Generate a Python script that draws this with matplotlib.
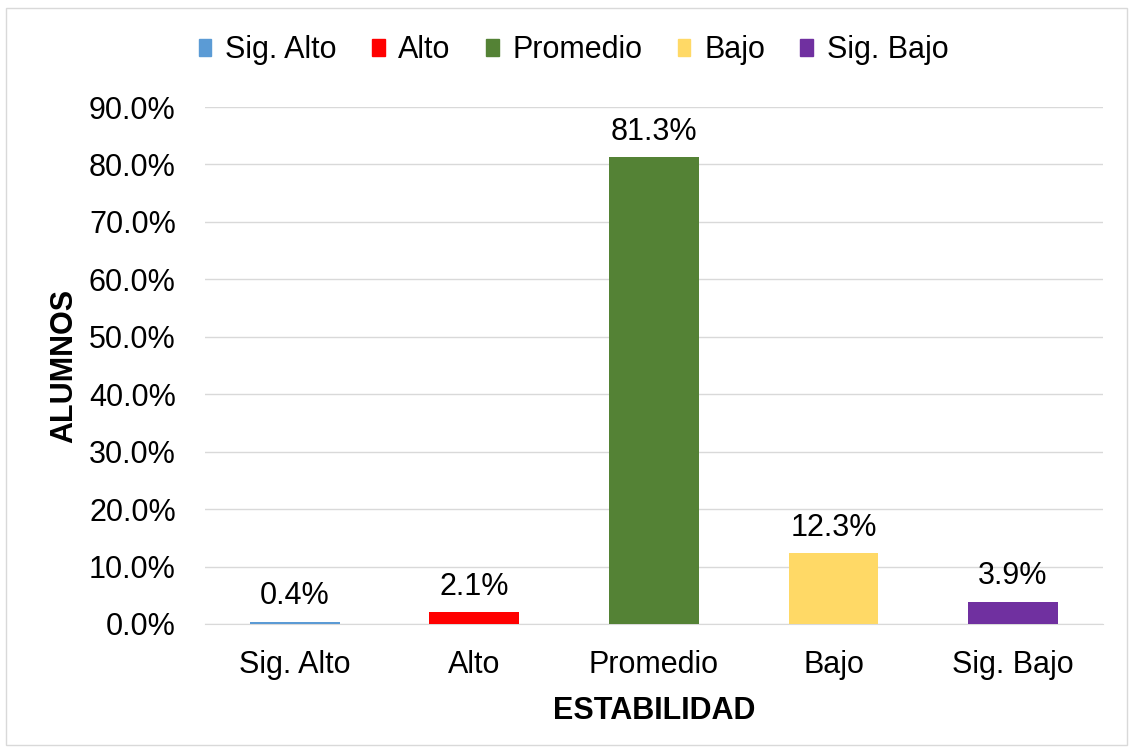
import matplotlib.pyplot as plt
from matplotlib.patches import Rectangle

categories = ["Sig. Alto", "Alto", "Promedio", "Bajo", "Sig. Bajo"]
values = [0.4, 2.1, 81.3, 12.3, 3.9]
colors = ["#5B9BD5", "#FF0000", "#548235", "#FFD966", "#7030A0"]

plt.rcParams["font.family"] = ["Liberation Sans", "DejaVu Sans"]
fs = 22

fig = plt.figure(figsize=(11.3, 7.49), dpi=100)
ax = fig.add_axes([0.1814, 0.1669, 0.7946, 0.6902])

x = range(len(categories))
ax.bar(x, values, width=0.5, color=colors, zorder=3)

# value labels above each bar
for xi, v in zip(x, values):
    ax.text(xi, v + 1.8, f"{v:.1f}%", ha="center", va="bottom", fontsize=fs)

ax.set_ylim(0, 90)
ax.set_xlim(-0.5, len(categories) - 0.5)
ax.set_yticks(range(0, 91, 10))
ax.set_yticklabels([f"{t:.1f}%" for t in range(0, 91, 10)], fontsize=fs)
ax.set_xticks(list(x))
ax.set_xticklabels(categories, fontsize=fs)
ax.tick_params(length=0)
ax.tick_params(axis="y", pad=21)
ax.tick_params(axis="x", pad=19)

ax.grid(axis="y", color="#D9D9D9", linewidth=1, zorder=0)
for s in ["top", "right", "left"]:
    ax.spines[s].set_visible(False)
ax.spines["bottom"].set_color("#D9D9D9")

ax.set_xlabel("ESTABILIDAD", fontsize=fs, fontweight="bold", labelpad=11)
ax.set_ylabel("ALUMNOS", fontsize=fs, fontweight="bold", labelpad=7)

handles = [Rectangle((0, 0), 1, 1, color=c) for c in colors]
fig.legend(handles, categories, loc="center", bbox_to_anchor=(0.5075, 0.933),
           ncol=5, frameon=False, fontsize=fs, handlelength=0.42,
           handleheight=0.5, handletextpad=0.45, columnspacing=1.15)

# light chart border
fig.patches.append(Rectangle((6 / 1130, 4 / 749), 1121 / 1130, 737 / 749,
                             transform=fig.transFigure, fill=False,
                             edgecolor="#D9D9D9", linewidth=1))

fig.savefig("out.png", dpi=100)
